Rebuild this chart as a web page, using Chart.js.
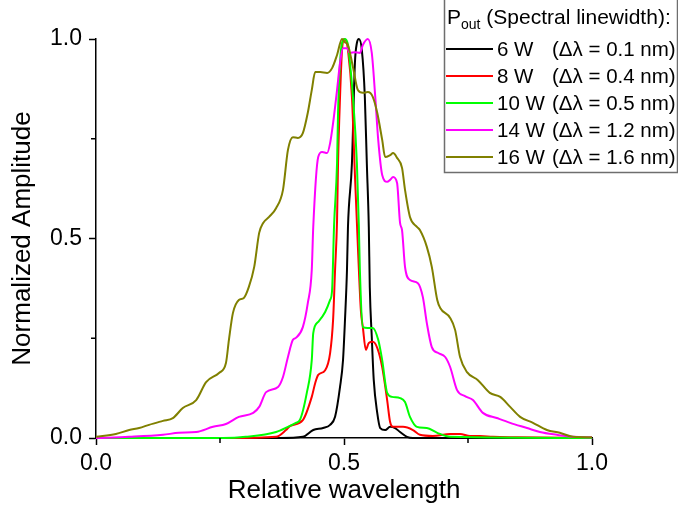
<!DOCTYPE html>
<html>
<head>
<meta charset="utf-8">
<script src="https://cdn.jsdelivr.net/npm/chart.js@4/dist/chart.umd.min.js"></script>
<style>
html,body{margin:0;padding:0;background:#fff;}
#wrap{width:678px;height:507px;position:relative;}
</style>
</head>
<body>
<div id="wrap"><canvas id="c" width="678" height="507"></canvas></div>
<script>
// ---- data ----
const seriesNames = ["6 W", "8 W", "10 W", "14 W", "16 W"];
const seriesWidths = ["(Δλ = 0.1 nm)", "(Δλ = 0.4 nm)", "(Δλ = 0.5 nm)", "(Δλ = 1.2 nm)", "(Δλ = 1.6 nm)"];
const xTickLabels = ["0.0", "0.5", "1.0"];
const yTickLabels = ["0.0", "0.5", "1.0"];

const x6W = [0, 0.371, 0.417, 0.438, 0.458, 0.472, 0.482, 0.492, 0.498, 0.502, 0.506, 0.508, 0.516, 0.522, 0.526, 0.530, 0.536, 0.542, 0.546, 0.550, 0.552, 0.556, 0.560, 0.567, 0.573, 0.583, 0.593, 0.603, 0.613, 0.627, 0.639, 1.0];
const y6W = [0, 0, 0.003, 0.020, 0.025, 0.033, 0.053, 0.128, 0.195, 0.296, 0.421, 0.529, 0.689, 0.940, 0.990, 1.000, 0.972, 0.855, 0.689, 0.529, 0.378, 0.253, 0.145, 0.063, 0.025, 0.020, 0.028, 0.025, 0.015, 0.003, 0, 0];

const x8W = [0, 0.268, 0.363, 0.383, 0.391, 0.417, 0.435, 0.442, 0.448, 0.462, 0.472, 0.478, 0.482, 0.486, 0.488, 0.492, 0.496, 0.500, 0.504, 0.508, 0.516, 0.522, 0.528, 0.534, 0.538, 0.544, 0.550, 0.558, 0.567, 0.577, 0.587, 0.593, 0.599, 0.619, 0.639, 0.653, 0.679, 0.714, 0.734, 0.754, 0.774, 0.800, 0.849, 1.0];
const y8W = [0, 0, 0.003, 0.020, 0.030, 0.045, 0.103, 0.138, 0.158, 0.170, 0.213, 0.296, 0.421, 0.546, 0.689, 0.855, 0.972, 1.000, 0.997, 0.972, 0.855, 0.660, 0.480, 0.320, 0.278, 0.221, 0.238, 0.241, 0.226, 0.178, 0.095, 0.040, 0.028, 0.028, 0.020, 0.008, 0.005, 0.010, 0.010, 0.005, 0.005, 0.003, 0.002, 0];

const x10W = [0, 0.256, 0.302, 0.363, 0.387, 0.403, 0.411, 0.425, 0.435, 0.438, 0.448, 0.462, 0.472, 0.476, 0.480, 0.486, 0.488, 0.492, 0.496, 0.502, 0.508, 0.512, 0.518, 0.526, 0.530, 0.532, 0.538, 0.548, 0.558, 0.569, 0.577, 0.587, 0.597, 0.613, 0.623, 0.633, 0.647, 0.667, 0.688, 0.714, 1.0];
const y10W = [0, 0, 0.003, 0.015, 0.028, 0.038, 0.045, 0.113, 0.195, 0.263, 0.291, 0.316, 0.346, 0.371, 0.534, 0.689, 0.815, 0.940, 0.990, 1.000, 0.985, 0.940, 0.855, 0.689, 0.529, 0.421, 0.278, 0.276, 0.276, 0.246, 0.195, 0.113, 0.103, 0.100, 0.090, 0.053, 0.028, 0.025, 0.013, 0.003, 0];

const x14W = [0, 0.067, 0.135, 0.167, 0.202, 0.236, 0.262, 0.288, 0.317, 0.329, 0.343, 0.367, 0.377, 0.387, 0.397, 0.403, 0.417, 0.427, 0.435, 0.438, 0.448, 0.456, 0.466, 0.472, 0.478, 0.486, 0.492, 0.498, 0.506, 0.512, 0.522, 0.532, 0.538, 0.548, 0.556, 0.563, 0.569, 0.577, 0.587, 0.593, 0.599, 0.607, 0.613, 0.617, 0.623, 0.633, 0.649, 0.659, 0.667, 0.677, 0.690, 0.704, 0.714, 0.728, 0.744, 0.760, 0.780, 0.808, 0.835, 0.869, 0.895, 0.929, 0.962, 1.0];
const y14W = [0, 0.003, 0.008, 0.013, 0.015, 0.028, 0.035, 0.053, 0.063, 0.078, 0.115, 0.128, 0.153, 0.203, 0.246, 0.251, 0.278, 0.338, 0.421, 0.529, 0.704, 0.717, 0.714, 0.739, 0.789, 0.872, 0.940, 0.977, 0.977, 0.965, 0.967, 0.965, 0.985, 1.000, 0.965, 0.855, 0.747, 0.659, 0.642, 0.647, 0.654, 0.639, 0.539, 0.521, 0.429, 0.396, 0.388, 0.353, 0.288, 0.228, 0.213, 0.203, 0.178, 0.120, 0.105, 0.095, 0.063, 0.050, 0.038, 0.025, 0.015, 0.008, 0.003, 0.002];

const x16W = [0, 0.040, 0.067, 0.087, 0.107, 0.135, 0.155, 0.175, 0.202, 0.222, 0.248, 0.262, 0.268, 0.276, 0.288, 0.298, 0.308, 0.319, 0.329, 0.337, 0.349, 0.363, 0.377, 0.387, 0.397, 0.407, 0.417, 0.427, 0.435, 0.442, 0.452, 0.466, 0.476, 0.486, 0.496, 0.502, 0.508, 0.518, 0.528, 0.538, 0.548, 0.558, 0.567, 0.577, 0.583, 0.593, 0.599, 0.607, 0.617, 0.623, 0.633, 0.647, 0.653, 0.667, 0.677, 0.688, 0.694, 0.714, 0.724, 0.734, 0.748, 0.770, 0.794, 0.815, 0.835, 0.855, 0.881, 0.909, 0.935, 0.962, 1.0];
const y16W = [0.003, 0.010, 0.020, 0.025, 0.033, 0.043, 0.050, 0.075, 0.095, 0.140, 0.163, 0.188, 0.246, 0.313, 0.346, 0.351, 0.378, 0.429, 0.514, 0.539, 0.554, 0.576, 0.622, 0.722, 0.754, 0.752, 0.764, 0.815, 0.872, 0.917, 0.917, 0.915, 0.927, 0.960, 1.000, 0.992, 0.985, 0.930, 0.872, 0.865, 0.867, 0.855, 0.815, 0.747, 0.704, 0.709, 0.714, 0.702, 0.677, 0.622, 0.554, 0.529, 0.521, 0.479, 0.429, 0.346, 0.326, 0.301, 0.271, 0.203, 0.165, 0.145, 0.113, 0.103, 0.078, 0.053, 0.038, 0.020, 0.013, 0.003, 0.002];

const majorTicks = [0, 0.5, 1];
const minorTicks = [0.25, 0.75];

// ---- styling ----
const FONT = '"Liberation Sans", Arial, Helvetica, sans-serif';
const colors = ["#000000", "#ff0000", "#00ff00", "#ff00ff", "#808000"];
const xs = [x6W, x8W, x10W, x14W, x16W];
const ys = [y6W, y8W, y10W, y14W, y16W];

const datasets = seriesNames.map((name, i) => ({
  label: name,
  data: xs[i].map((x, j) => ({ x: x, y: ys[i][j] })),
  borderColor: colors[i],
  backgroundColor: colors[i],
  borderWidth: 2,
  pointRadius: 0,
  cubicInterpolationMode: 'monotone',
  fill: false,
  clip: false,
  order: 10 - i
}));

function tickLabel(list, v) {
  const idx = majorTicks.findIndex(t => Math.abs(t - v) < 1e-6);
  return idx >= 0 ? list[idx] : '';
}
function isMajor(v) { return majorTicks.some(t => Math.abs(t - v) < 1e-6); }

const minorTickPlugin = {
  id: 'minorTicks',
  afterDraw(chart) {
    const ctx = chart.ctx;
    const xS = chart.scales.x, yS = chart.scales.y;
    ctx.save();
    ctx.strokeStyle = '#000';
    ctx.lineWidth = 1.5;
    minorTicks.forEach(v => {
      const px = xS.getPixelForValue(v);
      ctx.beginPath(); ctx.moveTo(px, xS.top); ctx.lineTo(px, xS.top + 5); ctx.stroke();
      const py = yS.getPixelForValue(v);
      ctx.beginPath(); ctx.moveTo(yS.right, py); ctx.lineTo(yS.right - 5, py); ctx.stroke();
    });
    ctx.restore();
  }
};

const legendPlugin = {
  id: 'customLegend',
  afterDraw(chart) {
    const ctx = chart.ctx;
    ctx.save();
    ctx.strokeStyle = '#6e6e6e';
    ctx.lineWidth = 1.5;
    ctx.strokeRect(444.5, -2, 233, 174.5);
    ctx.fillStyle = '#000';
    ctx.textBaseline = 'alphabetic';
    ctx.textAlign = 'left';
    ctx.font = '21px ' + FONT;
    let x = 447;
    ctx.fillText('P', x, 24);
    x += ctx.measureText('P').width;
    ctx.font = '14px ' + FONT;
    ctx.fillText('out', x, 29);
    x += ctx.measureText('out').width;
    ctx.font = '21px ' + FONT;
    ctx.fillText(' (Spectral linewidth):', x, 24);
    ctx.font = '20.5px ' + FONT;
    const parenX = 552;
    seriesNames.forEach((name, i) => {
      const cy = 49 + i * 27;
      ctx.strokeStyle = colors[i];
      ctx.lineWidth = 2;
      ctx.beginPath();
      ctx.moveTo(446, cy);
      ctx.lineTo(493, cy);
      ctx.stroke();
      ctx.fillStyle = '#000';
      ctx.fillText(name, 497, cy + 7);
      ctx.fillText(seriesWidths[i], parenX, cy + 7);
    });
    ctx.restore();
  }
};

const tickColor = c => isMajor(c.tick ? c.tick.value : 0) ? '#000' : 'rgba(0,0,0,0)';

new Chart(document.getElementById('c'), {
  type: 'line',
  data: { datasets: datasets },
  options: {
    responsive: false,
    animation: false,
    devicePixelRatio: 1,
    layout: { padding: { top: 39, right: 86, left: 0, bottom: 0 } },
    plugins: { legend: { display: false }, tooltip: { enabled: false } },
    scales: {
      x: {
        type: 'linear',
        min: 0, max: 1,
        afterFit: s => { s.height = 69; },
        afterBuildTicks: s => { s.ticks = majorTicks.concat(minorTicks).sort().map(v => ({ value: v })); },
        border: { display: true, color: '#000', width: 1.5 },
        grid: { drawOnChartArea: false, drawTicks: true, tickLength: 7, color: tickColor, tickColor: tickColor, tickWidth: 1.5 },
        ticks: {
          autoSkip: false, maxRotation: 0, padding: 5, color: '#000',
          font: { family: FONT, size: 23 },
          callback: v => tickLabel(xTickLabels, v)
        },
        title: {
          display: true, text: 'Relative wavelength', color: '#000',
          font: { family: FONT, size: 26 }, padding: { top: 0, bottom: 1 }
        }
      },
      y: {
        type: 'linear',
        min: 0, max: 1,
        afterFit: s => { s.width = 96; },
        afterBuildTicks: s => { s.ticks = majorTicks.concat(minorTicks).sort().map(v => ({ value: v })); },
        border: { display: true, color: '#000', width: 1.5 },
        grid: { drawOnChartArea: false, drawTicks: true, tickLength: 7, color: tickColor, tickColor: tickColor, tickWidth: 1.5 },
        ticks: {
          autoSkip: false, padding: 7, color: '#000',
          font: { family: FONT, size: 23 },
          callback: v => tickLabel(yTickLabels, v)
        },
        title: {
          display: true, text: 'Normalized Amplitude', color: '#000',
          font: { family: FONT, size: 26 }, padding: { top: 7, bottom: 0 }
        }
      }
    }
  },
  plugins: [minorTickPlugin, legendPlugin]
});
</script>
</body>
</html>
